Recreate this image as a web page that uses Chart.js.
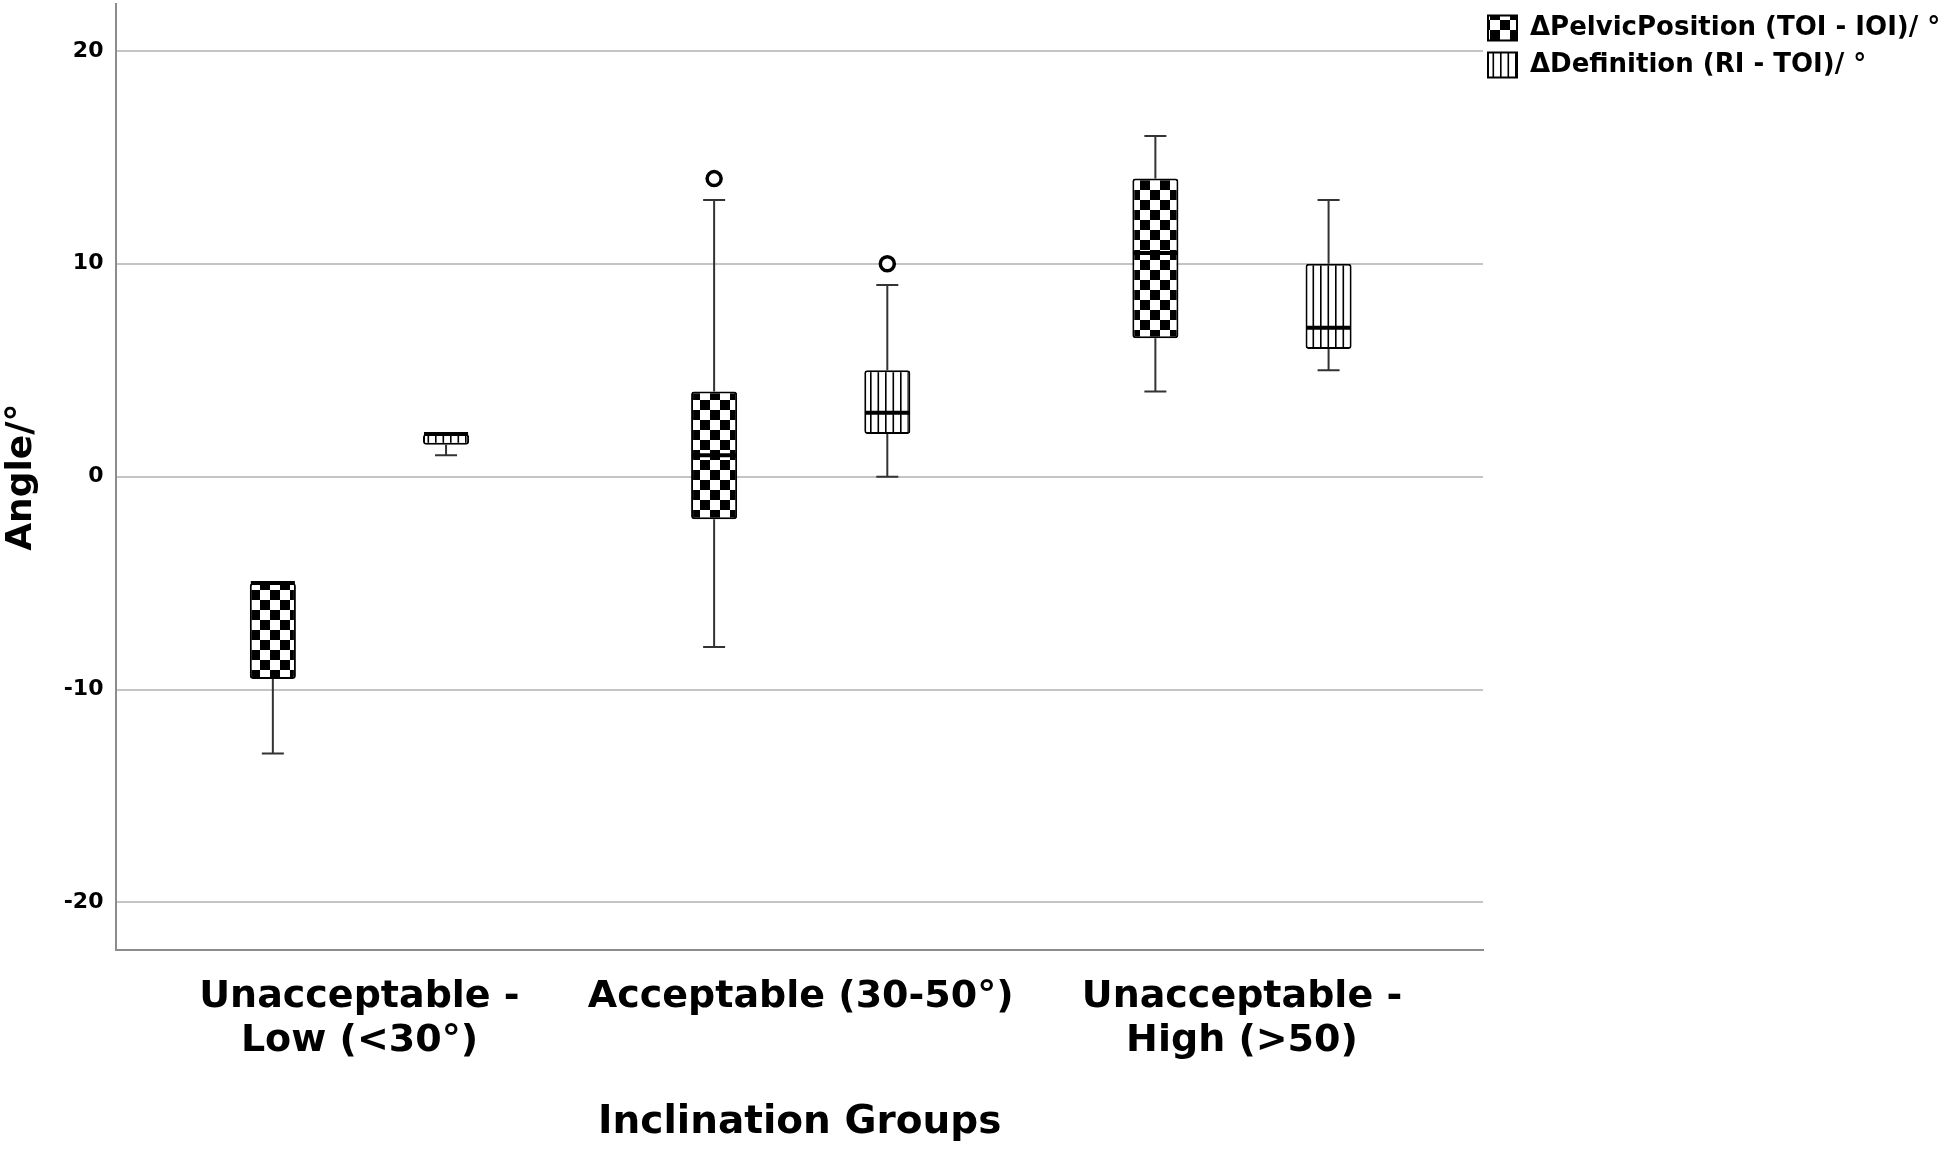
<!DOCTYPE html>
<html><head><meta charset="utf-8">
<script src="https://cdn.jsdelivr.net/npm/chart.js@4.4.1/dist/chart.umd.min.js"></script>
<style>html,body{margin:0;padding:0;background:#fff}#wrap{width:1944px;height:1149px;position:relative}</style>
</head><body><div id="wrap"><canvas id="c"></canvas></div>
<script>
// ---- data ----
const CATEGORIES = [['Unacceptable -', 'Low (<30°)'], ['Acceptable (30-50°)'], ['Unacceptable -', 'High (>50)']];
const SERIES = ['ΔPelvicPosition (TOI - IOI)/ °', 'ΔDefinition (RI - TOI)/ °'];
const PELVIC_MIN = [-13, -8, 4];
const PELVIC_Q1  = [-9.5, -2, 6.5];
const PELVIC_MED = [-5, 1, 10.5];
const PELVIC_Q3  = [-5, 4, 14];
const PELVIC_MAX = [-5, 13, 16];
const PELVIC_OUT = [[], [14], []];
const DEF_MIN = [1, 0, 5];
const DEF_Q1  = [1.5, 2, 6];
const DEF_MED = [2, 3, 7];
const DEF_Q3  = [2, 5, 10];
const DEF_MAX = [2, 9, 13];
const DEF_OUT = [[], [10], []];
const Y_TICKS = [-20, -10, 0, 10, 20];
const Y_TITLE = 'Angle/°';
const X_TITLE = 'Inclination Groups';

const STATS = [
  {min: PELVIC_MIN, q1: PELVIC_Q1, med: PELVIC_MED, q3: PELVIC_Q3, max: PELVIC_MAX, out: PELVIC_OUT},
  {min: DEF_MIN, q1: DEF_Q1, med: DEF_MED, q3: DEF_Q3, max: DEF_MAX, out: DEF_OUT}
];

const FONT = 'DejaVu Sans';
const canvas = document.getElementById('c');
const ctx0 = canvas.getContext('2d');

function checkerPattern() {
  const c = document.createElement('canvas'); c.width = 20; c.height = 20;
  const x = c.getContext('2d');
  x.fillStyle = '#fff'; x.fillRect(0, 0, 20, 20);
  x.fillStyle = '#000'; x.fillRect(0, 0, 10, 10); x.fillRect(10, 10, 10, 10);
  return ctx0.createPattern(c, 'repeat');
}
function stripePattern() {
  const c = document.createElement('canvas'); c.width = 15; c.height = 4;
  const x = c.getContext('2d');
  x.fillStyle = '#fff'; x.fillRect(0, 0, 15, 4);
  x.fillStyle = '#000'; x.fillRect(0, 0, 1.6, 4); x.fillRect(7.5, 0, 1.6, 4);
  return ctx0.createPattern(c, 'repeat');
}

const boxPlugin = {
  id: 'boxparts',
  afterLayout(chart) {
    // nudge legend slightly left so its icons sit just right of the plot edge
    if (chart.legend) { chart.legend.left -= 6; chart.legend.right -= 6; }
  },
  beforeDatasetsDraw(chart) {
    const ctx = chart.ctx, y = chart.scales.y;
    ctx.save();
    ctx.strokeStyle = '#333'; ctx.lineWidth = 2;
    chart.data.datasets.forEach((ds, di) => {
      const meta = chart.getDatasetMeta(di), s = STATS[di];
      meta.data.forEach((el, i) => {
        const cx = el.x;
        const yMax = y.getPixelForValue(s.max[i]), yQ3 = y.getPixelForValue(s.q3[i]);
        const yMin = y.getPixelForValue(s.min[i]), yQ1 = y.getPixelForValue(s.q1[i]);
        ctx.beginPath();
        ctx.moveTo(cx, yQ3); ctx.lineTo(cx, yMax);
        ctx.moveTo(cx, yQ1); ctx.lineTo(cx, yMin);
        if (s.max[i] > s.q3[i]) { ctx.moveTo(cx - 11, yMax); ctx.lineTo(cx + 11, yMax); }
        if (s.min[i] < s.q1[i]) { ctx.moveTo(cx - 11, yMin); ctx.lineTo(cx + 11, yMin); }
        ctx.stroke();
      });
    });
    ctx.restore();
  },
  afterDatasetsDraw(chart) {
    const ctx = chart.ctx, y = chart.scales.y;
    ctx.save();
    chart.data.datasets.forEach((ds, di) => {
      const meta = chart.getDatasetMeta(di), s = STATS[di];
      meta.data.forEach((el, i) => {
        const cx = el.x, w = el.width;
        const ym = y.getPixelForValue(s.med[i]);
        ctx.strokeStyle = '#000'; ctx.lineWidth = 4;
        ctx.beginPath(); ctx.moveTo(cx - w / 2 + 1, ym); ctx.lineTo(cx + w / 2 - 1, ym); ctx.stroke();
        s.out[i].forEach(v => {
          const yo = y.getPixelForValue(v);
          ctx.fillStyle = '#fff'; ctx.strokeStyle = '#000'; ctx.lineWidth = 3.5;
          ctx.beginPath(); ctx.arc(cx, yo, 7, 0, Math.PI * 2); ctx.fill(); ctx.stroke();
        });
      });
    });
    ctx.restore();
  }
};

const patterns = [checkerPattern(), stripePattern()];
const datasets = STATS.map((s, di) => ({
  label: SERIES[di],
  data: s.q1.map((q1, i) => ({x: i, y: [q1, s.q3[i]]})),
  backgroundColor: patterns[di],
  borderColor: '#000',
  borderWidth: 2,
  borderRadius: 3,
  borderSkipped: false,
  categoryPercentage: 0.785,
  barPercentage: 0.266
}));

new Chart(canvas, {
  type: 'bar',
  data: {datasets},
  plugins: [boxPlugin],
  options: {
    responsive: true,
    maintainAspectRatio: false,
    animation: false,
    layout: {padding: {top: 4, right: 0, bottom: 0, left: 0}},
    plugins: {
      tooltip: {enabled: false},
      legend: {
        position: 'right',
        align: 'start',
        maxWidth: 461,
        labels: {
          color: '#000',
          font: {family: FONT, size: 26, weight: 'bold'},
          boxWidth: 29, boxHeight: 25, padding: 11
        }
      }
    },
    scales: {
      x: {
        type: 'linear',
        min: -0.5507, max: 2.5462,
        offset: false,
        grid: {display: false, drawTicks: false, offset: false},
        border: {display: true, color: '#8c8c8c', width: 2},
        afterBuildTicks: (sc) => { sc.ticks = CATEGORIES.map((_, i) => ({value: i})); },
        ticks: {
          autoSkip: false, maxRotation: 0, minRotation: 0, padding: 25,
          color: '#000',
          font: {family: FONT, size: 38, weight: 'bold', lineHeight: 1.158},
          callback: (v) => CATEGORIES[v]
        },
        title: {
          display: true, text: X_TITLE, color: '#000',
          font: {family: FONT, size: 39, weight: 'bold', lineHeight: 1.2},
          padding: {top: 10.8, bottom: 3}
        }
      },
      y: {
        type: 'linear',
        min: -22.25, max: 22.2,
        afterBuildTicks: (sc) => { sc.ticks = Y_TICKS.map(v => ({value: v})); },
        grid: {color: '#c4c4c4', lineWidth: 2, drawTicks: true, tickLength: 13, tickColor: 'rgba(0,0,0,0)'},
        border: {display: true, color: '#8c8c8c', width: 2},
        ticks: {
          padding: 0, color: '#000',
          font: {family: FONT, size: 22, weight: 'bold', lineHeight: 0.3}
        },
        title: {
          display: true, text: Y_TITLE, color: '#000',
          font: {family: FONT, size: 36, weight: 'bold', lineHeight: 1.2},
          padding: {top: 0, bottom: 20.5}
        }
      }
    }
  }
});
</script>
</body></html>
